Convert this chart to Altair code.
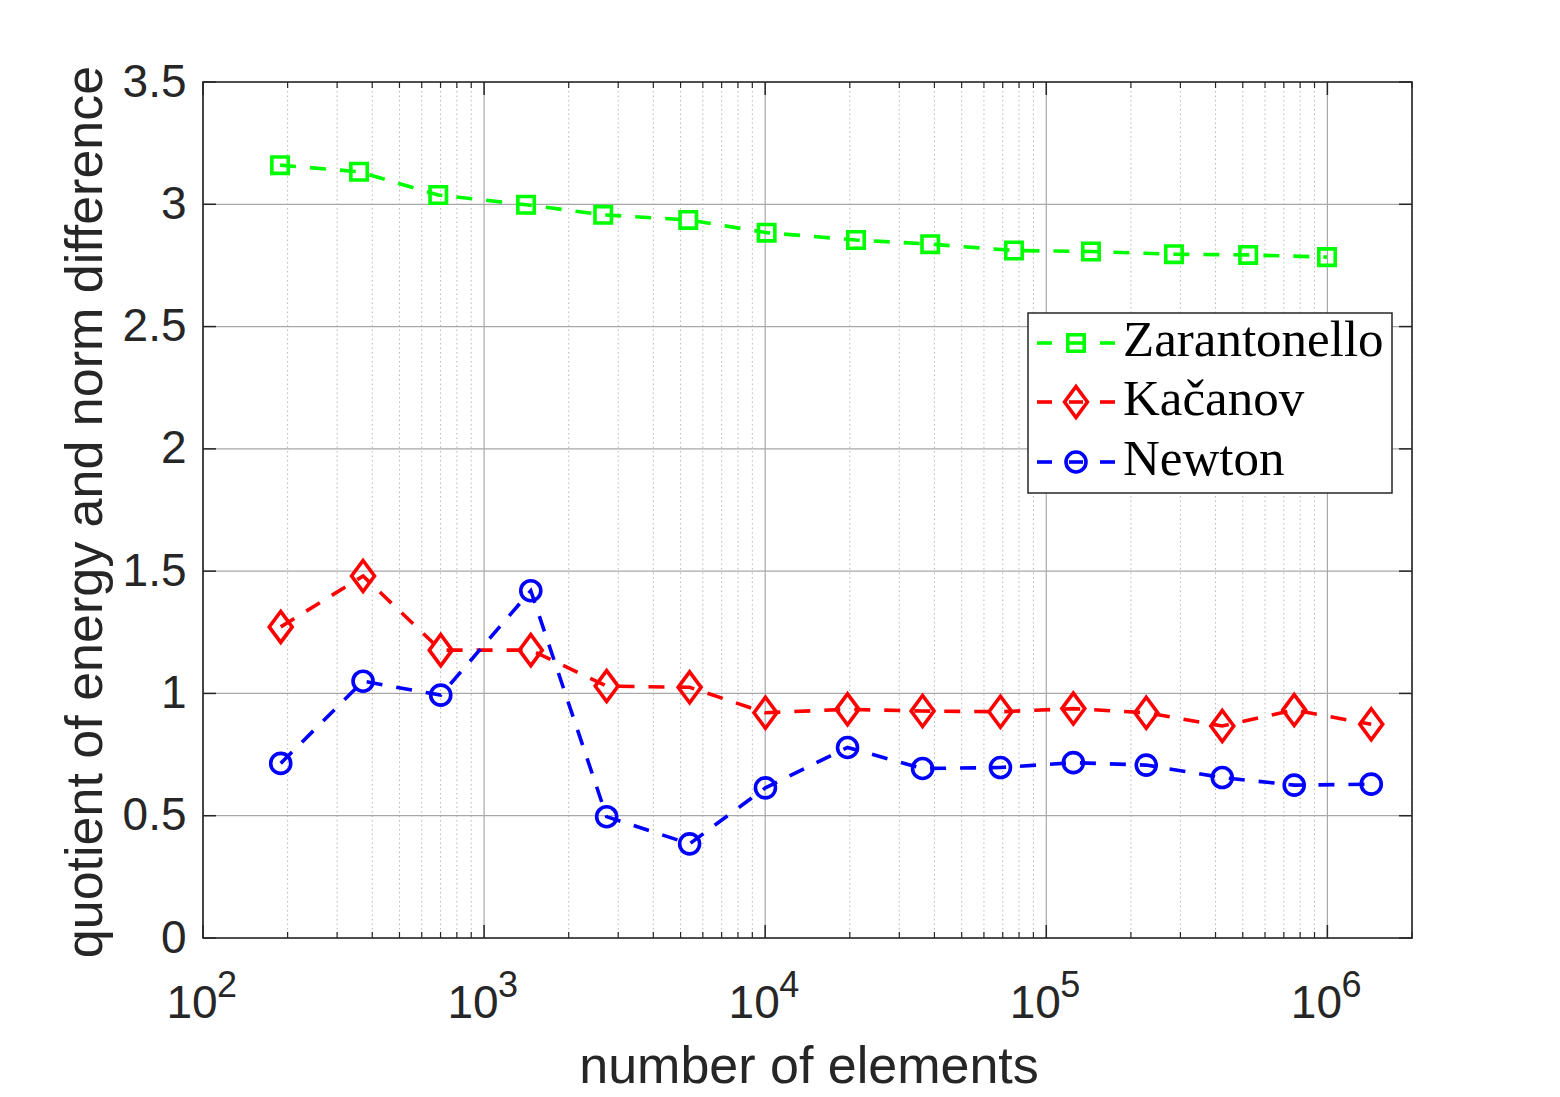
import altair as alt
import pandas as pd

# ---------------- data ----------------
series_names = ["Zarantonello", "Kačanov", "Newton"]
series_colors = ["#00ff00", "#ff0000", "#0000ff"]

n_zarantonello = [188, 359, 687, 1410, 2653, 5325, 10120, 21040, 38640, 76740,
                  144200, 284600, 522600, 997000]
q_zarantonello = [3.160, 3.133, 3.038, 2.998, 2.957, 2.936, 2.884, 2.854, 2.837,
                  2.811, 2.807, 2.796, 2.793, 2.784]

n_kacanov_newton = [189, 371, 701, 1466, 2729, 5384, 10020, 19630, 36300, 68700,
                    124800, 226800, 422700, 762000, 1432000]
q_kacanov = [1.272, 1.480, 1.177, 1.177, 1.030, 1.025, 0.921, 0.935, 0.928, 0.925,
             0.938, 0.921, 0.867, 0.932, 0.874]
q_newton = [0.714, 1.050, 0.993, 1.420, 0.496, 0.385, 0.614, 0.779, 0.693, 0.697,
            0.717, 0.707, 0.656, 0.625, 0.629]

x_major = [1e2, 1e3, 1e4, 1e5, 1e6]
x_exponents = ["2", "3", "4", "5", "6"]
x_minor = [m * 10 ** k for k in range(2, 6) for m in range(2, 10)] + [2e6]
y_ticks = [0, 0.5, 1, 1.5, 2, 2.5, 3, 3.5]

x_title = "number of elements"
y_title = "quotient of energy and norm difference"

# ---------------- layout / style ----------------
W, H = 1209, 856
AX = "#262626"
SANS = "Liberation Sans"
SERIF = "Liberation Serif"
LW = 3.6

xs = alt.Scale(type="log", domain=[100, 2e6], nice=False)
ys = alt.Scale(domain=[0, 3.5], nice=False, zero=False)
y_axis = alt.Axis(values=y_ticks, format="~g", labelFont=SANS, labelFontSize=46,
                  labelColor=AX, labelPadding=17, domain=False, ticks=False,
                  tickSize=0, grid=False, title=None)

diamond = "M0,-1L0.74,0L0,1L-0.74,0Z"
shapes = ["square", diamond, "circle"]
sizes = [270, 960, 400]

df_xmaj = pd.DataFrame({"v": x_major, "e": x_exponents, "b": ["10"] * len(x_major)})
df_xmin = pd.DataFrame({"v": x_minor})
df_y = pd.DataFrame({"v": y_ticks})
one = pd.DataFrame({"a": [0]})

X = lambda f: alt.X(f, scale=xs, axis=None)
Y = lambda f: alt.Y(f, scale=ys, axis=y_axis)

layers = []

# grid
layers.append(alt.Chart(df_xmin).mark_rule(color="#b8b8b8", strokeWidth=1, strokeDash=[1.5, 3])
              .encode(x=X("v:Q"), y=alt.value(0), y2=alt.value(H)))
layers.append(alt.Chart(df_xmaj).mark_rule(color="#a8a8a8", strokeWidth=1.2)
              .encode(x=X("v:Q"), y=alt.value(0), y2=alt.value(H)))
layers.append(alt.Chart(df_y).mark_rule(color="#a8a8a8", strokeWidth=1.2)
              .encode(y=Y("v:Q"), x=alt.value(0), x2=alt.value(W)))

# inward ticks
layers.append(alt.Chart(df_y).mark_rule(color=AX, strokeWidth=1.5)
              .encode(y=Y("v:Q"), x=alt.value(0), x2=alt.value(13)))
layers.append(alt.Chart(df_y).mark_rule(color=AX, strokeWidth=1.5)
              .encode(y=Y("v:Q"), x=alt.value(W - 13), x2=alt.value(W)))
layers.append(alt.Chart(df_xmaj).mark_rule(color=AX, strokeWidth=1.5)
              .encode(x=X("v:Q"), y=alt.value(H - 13), y2=alt.value(H)))
layers.append(alt.Chart(df_xmaj).mark_rule(color=AX, strokeWidth=1.5)
              .encode(x=X("v:Q"), y=alt.value(0), y2=alt.value(13)))
layers.append(alt.Chart(df_xmin).mark_rule(color=AX, strokeWidth=1.2)
              .encode(x=X("v:Q"), y=alt.value(H - 6), y2=alt.value(H)))
layers.append(alt.Chart(df_xmin).mark_rule(color=AX, strokeWidth=1.2)
              .encode(x=X("v:Q"), y=alt.value(0), y2=alt.value(6)))

# box
layers.append(alt.Chart(one).mark_rect(filled=False, stroke=AX, strokeWidth=1.6)
              .encode(x=alt.value(0), x2=alt.value(W), y=alt.value(0), y2=alt.value(H)))

# series
series_data = [
    pd.DataFrame({"n": n_zarantonello, "q": q_zarantonello}),
    pd.DataFrame({"n": n_kacanov_newton, "q": q_kacanov}),
    pd.DataFrame({"n": n_kacanov_newton, "q": q_newton}),
]
for df, c in zip(series_data, series_colors):
    layers.append(alt.Chart(df).mark_line(color=c, strokeWidth=LW, strokeDash=[16, 14])
                  .encode(x=X("n:Q"), y=Y("q:Q"), order=alt.Order("n:Q")))
for df, c, s, sz in zip(series_data, series_colors, shapes, sizes):
    layers.append(alt.Chart(df).mark_point(shape=s, size=sz, filled=False, color=c,
                                           strokeWidth=LW, opacity=1)
                  .encode(x=X("n:Q"), y=Y("q:Q")))

# x tick labels (10 with superscript exponent)
layers.append(alt.Chart(df_xmaj).mark_text(font=SANS, fontSize=46, color=AX, align="center",
                                           baseline="alphabetic", dx=-11)
              .encode(x=X("v:Q"), y=alt.value(H + 80), text="b:N"))
layers.append(alt.Chart(df_xmaj).mark_text(font=SANS, fontSize=36, color=AX, align="left",
                                           baseline="alphabetic", dx=14)
              .encode(x=X("v:Q"), y=alt.value(H + 59), text="e:N"))

# axis titles
layers.append(alt.Chart(pd.DataFrame({"t": [x_title]})).mark_text(
    font=SANS, fontSize=52, color=AX, align="center", baseline="alphabetic")
    .encode(x=alt.value(606), y=alt.value(H + 145), text="t:N"))
layers.append(alt.Chart(pd.DataFrame({"t": [y_title]})).mark_text(
    font=SANS, fontSize=52, color=AX, align="center", baseline="alphabetic", angle=270)
    .encode(x=alt.value(-101), y=alt.value(430), text="t:N"))

# legend
layers.append(alt.Chart(one).mark_rect(fill="white", stroke=AX, strokeWidth=1.5)
              .encode(x=alt.value(825), x2=alt.value(1189), y=alt.value(231), y2=alt.value(411)))
rows = [261, 320, 380]
for name, c, s, sz, ry in zip(series_names, series_colors, shapes, sizes, rows):
    for a, b in [(834, 849), (897, 912), (866, 880)]:
        layers.append(alt.Chart(one).mark_rule(color=c, strokeWidth=LW)
                      .encode(x=alt.value(a), x2=alt.value(b), y=alt.value(ry)))
    layers.append(alt.Chart(one).mark_point(shape=s, size=sz, filled=False, color=c,
                                            strokeWidth=LW, opacity=1)
                  .encode(x=alt.value(873), y=alt.value(ry)))
    layers.append(alt.Chart(pd.DataFrame({"t": [name]})).mark_text(
        font=SERIF, fontSize=51, color="black", align="left", baseline="alphabetic")
        .encode(x=alt.value(920), y=alt.value(ry + 13), text="t:N"))

chart = alt.layer(*layers).properties(
    width=W, height=H,
    padding={"left": 195, "top": 74, "right": 140, "bottom": 157},
    autosize=alt.AutoSizeParams(type="none"),
).configure_view(stroke=None).configure(background="white")

chart.save("out.html", embed_options={"renderer": "svg", "actions": False})
